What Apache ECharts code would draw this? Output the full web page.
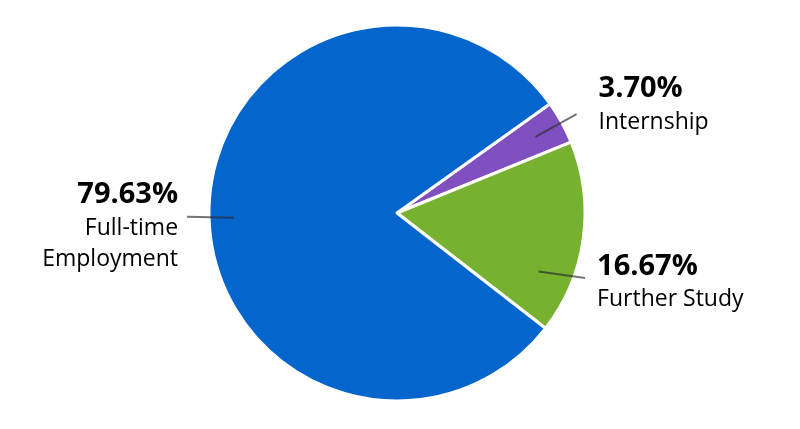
<!DOCTYPE html>
<html><head><meta charset="utf-8">
<script src="https://cdn.jsdelivr.net/npm/echarts@6/dist/echarts.min.js"></script>
<style>html,body{margin:0;padding:0;background:#fff}#c{width:800px;height:429px}</style>
</head><body><div id="c"></div>
<script>
const categories = ['Internship', 'Further Study', 'Full-time\nEmployment'];
const values = [3.70, 16.67, 79.63];
const colors = ['#8150c0', '#77b130', '#0466cc'];
const labelPads = [[0, 0, 20, 17], [8, 0, 0, 7], [18, 4, 0, 0]];
const labelShift = [[0, 0], [-15, 37], [-5, 8]];

const chart = echarts.init(document.getElementById('c'), null, {renderer: 'canvas'});
const data = categories.map((c, i) => ({name: c, value: values[i], itemStyle: {color: colors[i]}}));
const center = [397, 213];
chart.setOption({
  animation: false,
  series: [
    {
      type: 'pie', z: 1, radius: [0, 188], center: center, startAngle: 35.5, clockwise: true,
      data: data, label: {show: false}, labelLine: {show: false},
      itemStyle: {borderColor: '#fff', borderWidth: 3},
      emphasis: {disabled: true}, silent: true
    },
    {
      type: 'pie', z: 5, radius: [0, 158], center: center, startAngle: 35.5, clockwise: true,
      data: data.map((d, i) => ({name: d.name, value: d.value, itemStyle: {color: 'rgba(0,0,0,0)'},
        label: {padding: labelPads[i]}})),
      itemStyle: {borderWidth: 0},
      emphasis: {disabled: true}, silent: true,
      label: {
        show: true, position: 'outside', alignTo: 'none',
        fontFamily: 'Open Sans', color: '#000',
        formatter: p => '{p|' + p.value.toFixed(2) + '%}\n{n|' + p.name + '}',
        rich: {
          p: {fontFamily: 'Open Sans', fontWeight: 'bold', fontSize: 29, lineHeight: 36, color: '#000'},
          n: {fontFamily: 'Open Sans', fontSize: 23, lineHeight: 31, color: '#000'}
        }
      },
      labelLayout: function (params) {
        const s = labelShift[params.dataIndex] || [0, 0];
        const out = {dx: s[0], dy: s[1]};
        if (params.labelLinePoints) {
          out.labelLinePoints = params.labelLinePoints.map(p => [p[0] + s[0], p[1] + s[1]]);
        }
        return out;
      },
      labelLine: {show: true, length: 47, length2: 0, smooth: false,
        lineStyle: {color: 'rgba(40,40,40,0.65)', width: 2}}
    }
  ]
});
</script></body></html>
